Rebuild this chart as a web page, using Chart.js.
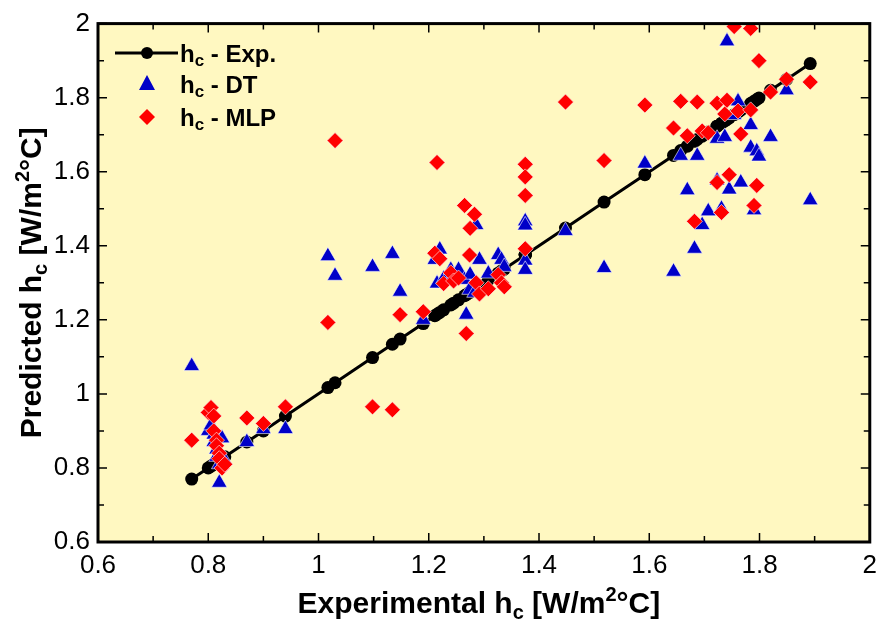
<!DOCTYPE html>
<html>
<head>
<meta charset="utf-8">
<script src="https://cdn.jsdelivr.net/npm/chart.js@4.4.1/dist/chart.umd.min.js"></script>
<style>
  html, body { margin: 0; padding: 0; background: #fff; }
  #wrap { width: 885px; height: 626px; }
</style>
</head>
<body>
<div id="wrap"><canvas id="hc" width="885" height="626"></canvas></div>
<script>
// experimental h_c (x), and predictions by DT and MLP for the same samples
const expHc = [0.77, 0.80, 0.805, 0.81, 0.81, 0.815, 0.815, 0.82, 0.82, 0.825, 0.83, 0.87, 0.90, 0.94,
  1.017, 1.03, 1.098, 1.134, 1.148, 1.19, 1.211, 1.215, 1.22, 1.227, 1.24, 1.245, 1.254, 1.265, 1.268,
  1.274, 1.275, 1.283, 1.286, 1.292, 1.308, 1.326, 1.332, 1.337, 1.375, 1.375, 1.375, 1.375, 1.448,
  1.518, 1.592, 1.644, 1.657, 1.669, 1.682, 1.687, 1.696, 1.707, 1.723, 1.723, 1.731, 1.737, 1.741,
  1.745, 1.754, 1.761, 1.766, 1.784, 1.784, 1.79, 1.795, 1.799, 1.82, 1.849, 1.892];
const dtHc = [1.075, 0.90, 0.915, 0.89, 0.87, 0.85, 0.83, 0.76, 0.81, 0.88, 0.82, 0.87, 0.905, 0.905,
  1.372, 1.319, 1.343, 1.378, 1.276, 1.20, 1.362, 1.298, 1.39, 1.311, 1.335, 1.322, 1.335, 1.308, 1.214,
  1.281, 1.322, 1.273, 1.456, 1.362, 1.325, 1.375, 1.362, 1.343, 1.466, 1.455, 1.36, 1.335, 1.44,
  1.34, 1.622, 1.33, 1.643, 1.55, 1.392, 1.643, 1.456, 1.493, 1.689, 1.576, 1.50, 1.694, 1.952,
  1.552, 1.753, 1.79, 1.571, 1.726, 1.665, 1.496, 1.655, 1.641, 1.694, 1.82, 1.523];
const mlpHc = [0.875, 0.95, 0.963, 0.94, 0.90, 0.875, 0.86, 0.84, 0.825, 0.80, 0.81, 0.935, 0.92, 0.965,
  1.193, 1.684, 0.965, 0.957, 1.214, 1.222, 1.38, 1.625, 1.365, 1.298, 1.327, 1.305, 1.313, 1.509, 1.163,
  1.375, 1.447, 1.485, 1.30, 1.27, 1.284, 1.322, 1.30, 1.289, 1.62, 1.586, 1.536, 1.392, 1.788,
  1.63, 1.78, 1.718, 1.79, 1.697, 1.466, 1.788, 1.71, 1.705, 1.785, 1.571, 1.49, 1.756, 1.793,
  1.592, 1.992, 1.764, 1.702, 1.987, 1.767, 1.509, 1.563, 1.90, 1.815, 1.85, 1.842];

const AXIS_MIN = 0.6, AXIS_MAX = 2, MAJOR = 0.2, MINOR = 0.1;

const BG = '#fff8c1';
const BLUE = '#0000c8';
const RED = '#ff0000';
const TICK_FONT = "'Liberation Sans Narrow', 'Liberation Sans', Arial, sans-serif";
const BOLD_FONT = "'Liberation Sans', Arial, sans-serif";

// draws a run of text with sub/superscripts; segs = [text, size, dy]
function richText(ctx, segs, cx, cy) {
    let total = 0;
    segs.forEach(s => { ctx.font = 'bold ' + s[1] + 'px ' + BOLD_FONT; total += ctx.measureText(s[0]).width; });
    let x = cx - total / 2;
    ctx.textAlign = 'left';
    ctx.textBaseline = 'alphabetic';
    segs.forEach(s => {
        ctx.font = 'bold ' + s[1] + 'px ' + BOLD_FONT;
        ctx.fillText(s[0], x, cy + s[2]);
        x += ctx.measureText(s[0]).width;
    });
}

function leftText(ctx, segs, x, y) {
    ctx.textAlign = 'left';
    ctx.textBaseline = 'alphabetic';
    segs.forEach(s => {
        ctx.font = 'bold ' + s[1] + 'px ' + BOLD_FONT;
        ctx.fillText(s[0], x, y + s[2]);
        x += ctx.measureText(s[0]).width;
    });
}

const framePlugin = {
    id: 'frame',
    beforeDraw(chart) {
        const { ctx, chartArea: a } = chart;
        ctx.save();
        ctx.fillStyle = BG;
        ctx.fillRect(a.left, a.top, a.right - a.left, a.bottom - a.top);
        ctx.restore();
    },
    afterDraw(chart) {
        const { ctx, chartArea: a, scales } = chart;
        ctx.save();
        ctx.strokeStyle = '#000';
        // inward ticks on all four sides
        ctx.lineWidth = 1.5;
        const n = Math.round((AXIS_MAX - AXIS_MIN) / MINOR);
        for (let i = 0; i <= n; i++) {
            const v = AXIS_MIN + i * MINOR;
            const len = i % 2 === 0 ? 9 : 6;
            const px = scales.x.getPixelForValue(v);
            const py = scales.y.getPixelForValue(v);
            ctx.beginPath();
            ctx.moveTo(px, a.bottom); ctx.lineTo(px, a.bottom - len);
            ctx.moveTo(px, a.top); ctx.lineTo(px, a.top + len);
            ctx.moveTo(a.left, py); ctx.lineTo(a.left + len, py);
            ctx.moveTo(a.right, py); ctx.lineTo(a.right - len, py);
            ctx.stroke();
        }
        ctx.lineWidth = 3;
        ctx.strokeRect(a.left, a.top, a.right - a.left, a.bottom - a.top);

        // axis titles
        ctx.fillStyle = '#000';
        const xc = (a.left + a.right) / 2;
        const title = lead => [[lead + ' h', 30, 0], ['c', 20, 6], [' [W/m', 30, 0], ['2', 20, -12], ['\u00b0C]', 30, 0]];
        richText(ctx, title('Experimental'), xc - 5, 613);
        ctx.translate(41, (a.top + a.bottom) / 2);
        ctx.rotate(-Math.PI / 2);
        richText(ctx, title('Predicted'), 0, 0);
        ctx.restore();

        // legend
        ctx.save();
        ctx.fillStyle = '#000';
        ctx.strokeStyle = '#000';
        ctx.lineWidth = 3;
        ctx.beginPath(); ctx.moveTo(115, 53); ctx.lineTo(178, 53); ctx.stroke();
        ctx.beginPath(); ctx.arc(147, 53, 6, 0, Math.PI * 2); ctx.fill();
        ctx.fillStyle = BLUE;
        ctx.beginPath(); ctx.moveTo(147, 75); ctx.lineTo(155, 90); ctx.lineTo(139, 90); ctx.closePath(); ctx.fill();
        ctx.fillStyle = RED;
        ctx.beginPath(); ctx.moveTo(147, 109); ctx.lineTo(155, 117); ctx.lineTo(147, 125); ctx.lineTo(139, 117); ctx.closePath(); ctx.fill();
        ctx.fillStyle = '#000';
        leftText(ctx, [['h', 24, 0], ['c', 17, 4], [' - Exp.', 24, 0]], 180, 62);
        leftText(ctx, [['h', 24, 0], ['c', 17, 4], [' - DT', 24, 0]], 180, 93);
        leftText(ctx, [['h', 24, 0], ['c', 17, 4], [' - MLP', 24, 0]], 180, 126);
        ctx.restore();
    }
};

const tickLabel = v => String(Number(v.toFixed(1)));

const expPts = expHc.map(v => ({ x: v, y: v }));
const dtPts = expHc.map((v, i) => ({ x: v, y: dtHc[i] }));
const mlpPts = expHc.map((v, i) => ({ x: v, y: mlpHc[i] }));

new Chart(document.getElementById('hc'), {
    type: 'scatter',
    data: {
        datasets: [
            {
                label: 'hc - Exp.', data: expPts, showLine: true, order: 3,
                borderColor: '#000', borderWidth: 3,
                pointStyle: 'circle', pointRadius: 6.5,
                pointBackgroundColor: '#000', pointBorderColor: '#000', pointBorderWidth: 0
            },
            {
                label: 'hc - DT', data: dtPts, order: 2,
                pointStyle: 'triangle', pointRadius: 9,
                pointBackgroundColor: BLUE, pointBorderColor: 'rgba(255,255,255,0.6)', pointBorderWidth: 1
            },
            {
                label: 'hc - MLP', data: mlpPts, order: 1,
                pointStyle: 'rectRot', pointRadius: 8,
                pointBackgroundColor: RED, pointBorderColor: 'rgba(255,255,255,0.6)', pointBorderWidth: 1
            }
        ]
    },
    options: {
        responsive: false,
        animation: false,
        layout: { padding: { top: 20, right: 8, left: 0, bottom: 0 } },
        plugins: { legend: { display: false }, tooltip: { enabled: false } },
        scales: {
            x: {
                type: 'linear', min: AXIS_MIN, max: AXIS_MAX,
                grid: { display: false, drawTicks: false },
                border: { display: false },
                ticks: {
                    stepSize: MAJOR, padding: 8, color: '#000',
                    font: { family: TICK_FONT, size: 26 },
                    callback: tickLabel, maxRotation: 0
                },
                afterFit: s => { s.height = 84; }
            },
            y: {
                type: 'linear', min: AXIS_MIN, max: AXIS_MAX,
                grid: { display: false, drawTicks: false },
                border: { display: false },
                ticks: {
                    stepSize: MAJOR, padding: 8, color: '#000',
                    font: { family: TICK_FONT, size: 26 },
                    callback: tickLabel
                },
                afterFit: s => { s.width = 98; }
            }
        }
    },
    plugins: [framePlugin]
});
</script>
</body>
</html>
